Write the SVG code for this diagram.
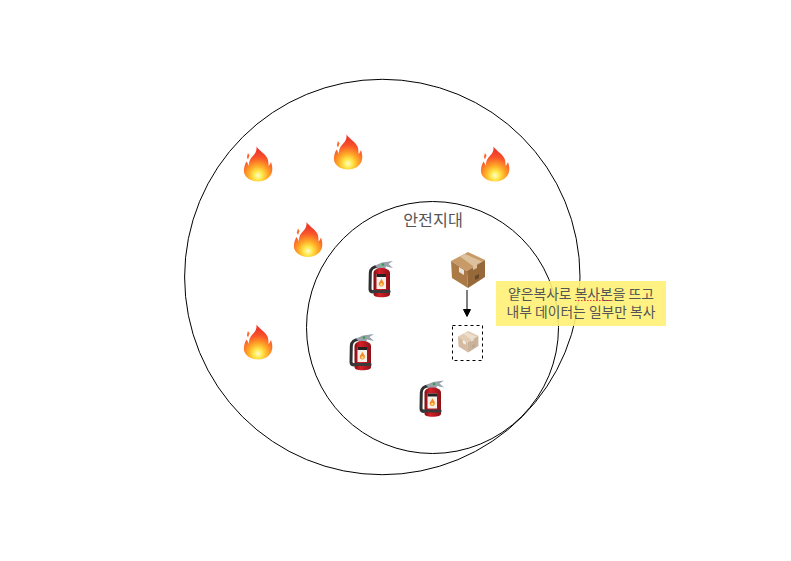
<svg xmlns="http://www.w3.org/2000/svg" width="791" height="561" viewBox="0 0 791 561">
<style>
.zone{fill:none;stroke:#000;stroke-width:1}
.t{font-family:"Noto Sans CJK KR","Noto Sans",sans-serif;fill:#555;text-anchor:middle}
</style>
<defs>
<radialGradient id="fg" gradientUnits="userSpaceOnUse" cx="14" cy="29" r="24">
<stop offset="0" stop-color="#fffbd0"/><stop offset=".18" stop-color="#ffe94a"/><stop offset=".42" stop-color="#ffa726"/><stop offset=".75" stop-color="#f9542a"/><stop offset="1" stop-color="#ee3a2a"/>
</radialGradient>
<linearGradient id="ex" x1="0" x2="1" y1="0" y2="0"><stop offset="0" stop-color="#7d0f14"/><stop offset=".35" stop-color="#d81f28"/><stop offset="1" stop-color="#8c1218"/></linearGradient>
<symbol id="flame" overflow="visible">
<path fill="url(#fg)" d="M12.500 0C15 4 21 7 23.500 12C24.500 15 24.500 17 24.500 19.500C25.500 18.500 26.500 17 27 15.500C28.500 20 28.800 24 27.500 27C25.500 32 20 35 14 35C8 35 2 32 .3 27C-.8 23 .5 18.500 2.500 15C3.500 16.500 4.500 18 5 19.500C4.500 13 8.500 10 10.500 7.500C12 5.500 12.800 3 12.500 0Z"/>
<path fill="#fb6a2c" d="M4 6.500L5.500 9L4 13L2.800 10.500Z"/>
</symbol>
<symbol id="ext" overflow="visible">
<path d="M9 5.500C4.500 5.500 1.500 8 1.300 12L1 28C1 30 2.500 31 4.500 31" fill="none" stroke="#2f2f2f" stroke-width="3"/>
<path d="M6 4.500L13 1.500L24 0L19.500 3L24 7L17 5.500L16 8L9 8Z" fill="#98a2ab"/>
<circle cx="14" cy="3.500" r="1.300" fill="#2e9e45"/>
<path d="M4.500 12C4.500 9 8 7 12.500 7C17 7 21 9 21 12V33C21 35.500 18 36.200 12.500 36.200C7 36.200 4.500 35.500 4.500 33Z" fill="url(#ex)"/>
<rect x="2.500" y="29" width="19" height="3" rx="1" fill="#3a3a3a"/>
<rect x="7.500" y="13" width="9.500" height="15" fill="#f4f0ea"/>
<rect x="7.500" y="13" width="9.500" height="3" fill="#222"/>
<path d="M12.300 17.500C12.800 19.500 15.300 20.500 14.800 23.500C14.300 26 10.300 26 9.800 23.500C9.500 21 11.800 20.500 12.300 17.500Z" fill="#f6892a"/>
<circle cx="12.300" cy="23.500" r="1.300" fill="#ffe26a"/>
</symbol>
<symbol id="box" overflow="visible">
<path fill="#c79a68" d="M0 9L17 0L34 8L16 19Z"/>
<path fill="#ab7a47" d="M0 9L16 19L17 36L1 26Z"/>
<path fill="#96683a" d="M34 8L16 19L17 36L34 25Z"/>
<path fill="#ddc19c" d="M9 4.500L14 2L31 9.500L26 12L26 16L22 18L22 14Z"/>
<path fill="#e8e4dc" d="M8 15L13 18L13 23L8 20Z"/>
<path fill="#4b3320" d="M24 24L28 22L28 26L24 28Z" opacity=".6"/>
</symbol>
</defs>
<g id="connectors">
<path d="M467 290V310" fill="none" stroke="#000" stroke-width="1"/>
<path d="M467 316.500L463.500 309.500H470.500Z" fill="#000" stroke="#000" stroke-width="1"/>
</g>
<g id="outer-zone"><circle class="zone" cx="382.300" cy="277" r="197.700"/></g>
<g id="safe-zone"><circle class="zone" cx="432.500" cy="327.500" r="126"/>
<text class="t" x="433" y="226" font-size="16.200">안전지대</text></g>
<g id="fire-1"><use href="#flame" x="244" y="146.500"/></g>
<g id="fire-2"><use href="#flame" x="334" y="134.500"/></g>
<g id="fire-3"><use href="#flame" x="294" y="222"/></g>
<g id="fire-4"><use href="#flame" x="481" y="146.500"/></g>
<g id="fire-5"><use href="#flame" x="244" y="324.500"/></g>
<g id="extinguisher-1"><use href="#ext" x="369" y="261"/></g>
<g id="extinguisher-2"><use href="#ext" x="350" y="334"/></g>
<g id="extinguisher-3"><use href="#ext" x="420" y="380.500"/></g>
<g id="box-original"><use href="#box" x="451" y="252"/></g>
<g id="box-copy"><rect x="452.500" y="325.500" width="30" height="35" fill="#fff" stroke="#000" stroke-dasharray="3 3"/>
<use href="#box" transform="translate(458 331) scale(.6)" opacity=".5"/></g>
<g id="note">
<rect x="496" y="281" width="170" height="45" fill="#fff176" fill-opacity=".9"/>
<text class="t" font-size="13.800"><tspan x="581" y="299">얕은복사로 복사본을 뜨고</tspan><tspan x="581" y="317">내부 데이터는 일부만 복사</tspan></text>
<path d="M575 300.500H613" stroke="#e53935" stroke-width="1" stroke-dasharray="1.500 1.500" fill="none"/>
</g>
</svg>
